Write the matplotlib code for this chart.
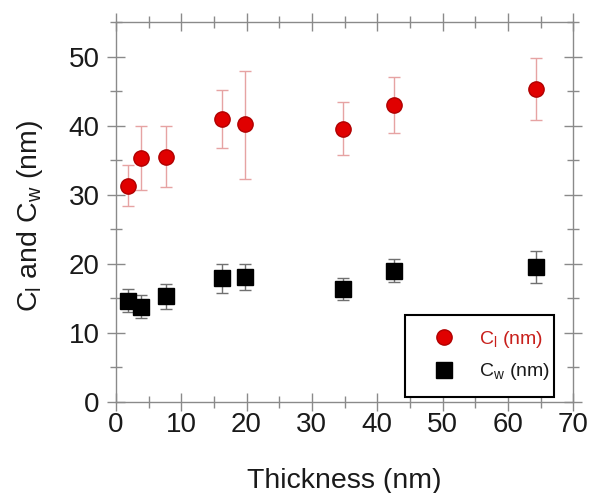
import numpy as np
import matplotlib
matplotlib.use("Agg")
import matplotlib.pyplot as plt
from matplotlib.patches import Rectangle
from matplotlib.ticker import MultipleLocator

# =========================
# Data
# =========================
thickness = [1.9, 3.8, 7.6, 16.2, 19.8, 34.8, 42.6, 64.3]

cl = [31.3, 35.3, 35.5, 41.0, 40.2, 39.6, 43.0, 45.3]
cl_low = [28.4, 30.7, 31.1, 36.8, 32.3, 35.7, 38.9, 40.8]
cl_high = [34.3, 39.9, 39.9, 45.2, 48.0, 43.4, 47.1, 49.8]

cw = [14.6, 13.8, 15.4, 17.9, 18.1, 16.3, 19.0, 19.5]
cw_low = [13.0, 12.1, 13.5, 15.75, 16.2, 14.7, 17.4, 17.3]
cw_high = [16.3, 15.5, 17.1, 20.0, 20.0, 17.9, 20.7, 21.9]

plt.rcParams["font.family"] = ["Liberation Sans", "DejaVu Sans"]
plt.rcParams["mathtext.default"] = "regular"

fig = plt.figure(figsize=(5.91, 4.93), dpi=100)
ax = fig.add_axes([0.196, 0.1846, 0.774, 0.7704])

cl_err = [np.array(cl) - np.array(cl_low), np.array(cl_high) - np.array(cl)]
cw_err = [np.array(cw) - np.array(cw_low), np.array(cw_high) - np.array(cw)]

# error bars first, markers on top
ax.errorbar(thickness, cl, yerr=cl_err, fmt="none", ecolor="#e6a3a3",
            elinewidth=1.0, capsize=4, capthick=1.0, zorder=2)
ax.errorbar(thickness, cw, yerr=cw_err, fmt="none", ecolor="#707070",
            elinewidth=1.0, capsize=4, capthick=1.0, zorder=2)

ax.plot(thickness, cl, "o", color="#e00000", markeredgecolor="#b00000",
        markersize=11, markeredgewidth=1.0, linestyle="none",
        label=r"C$_{l}$ (nm)", zorder=3)
ax.plot(thickness, cw, "s", color="black", markersize=11.5,
        linestyle="none", label=r"C$_{w}$ (nm)", zorder=3)

ax.set_xlim(0, 70)
ax.set_ylim(0, 55)
ax.xaxis.set_major_locator(MultipleLocator(10))
ax.xaxis.set_minor_locator(MultipleLocator(5))
ax.yaxis.set_major_locator(MultipleLocator(10))
ax.yaxis.set_minor_locator(MultipleLocator(5))

for s in ax.spines.values():
    s.set_color("#8a8a8a")
    s.set_linewidth(1.0)

ax.tick_params(which="both", direction="inout", top=True, right=True,
               color="#8a8a8a", labelsize=20, labelcolor="#1a1a1a")
ax.tick_params(which="major", length=13, width=1.0)
ax.tick_params(which="minor", length=8, width=1.0)
ax.tick_params(axis="x", which="major", pad=1)
ax.tick_params(axis="y", which="major", pad=5)

ax.set_xlabel("Thickness (nm)", fontsize=20.5, color="#1a1a1a", labelpad=21)
ax.set_ylabel(r"C$_{l}$ and C$_{w}$ (nm)", fontsize=20.5, color="#1a1a1a")
ax.yaxis.set_label_coords(-0.154, 0.49)

# legend box drawn separately so its padding can match the original
box = Rectangle((0.632, 0.013), 0.326, 0.216, transform=ax.transAxes,
                facecolor="white", edgecolor="black", linewidth=1.5,
                zorder=4)
ax.add_patch(box)

leg = ax.legend(loc="upper left", bbox_to_anchor=(0.696, 0.193),
                fontsize=14, frameon=False, borderpad=0,
                labelspacing=0.6, handletextpad=1.3,
                handlelength=1.0, borderaxespad=0)
leg.set_zorder(5)
leg.get_texts()[0].set_color("#c8201c")
leg.get_texts()[1].set_color("#1a1a1a")

fig.savefig("out.png", dpi=100)
